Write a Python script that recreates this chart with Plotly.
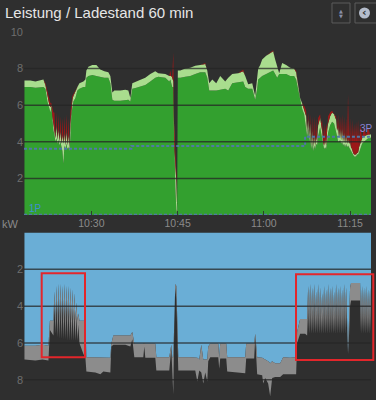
import pandas as pd
import plotly.graph_objects as go

# ---------------- data ----------------
BASE = pd.Timestamp("2024-05-01 10:00:00")

# top chart: minutes after 10:00
top_min = [18.36, 19.40, 20.27, 21.14, 21.66, 22.01, 22.35, 22.70, 22.88, 23.05,
           23.22, 23.40, 23.57, 23.75, 23.92, 24.10, 24.27, 24.44, 24.61, 24.79,
           24.96, 25.14, 25.31, 25.48, 25.66, 25.83, 26.00, 26.18, 26.35, 26.53,
           26.70, 26.87, 27.22, 27.57, 27.92, 28.61, 28.96, 29.13, 29.48, 30.17,
           30.87, 31.56, 32.26, 32.95, 33.30, 33.65, 34.00, 35.04, 35.91, 36.43,
           36.78, 37.12, 37.82, 38.51, 39.38, 40.25, 41.12, 41.64, 42.86, 43.55,
           43.73, 43.90, 44.07, 44.25, 44.39, 44.60, 44.78, 44.92, 45.04, 45.47,
           46.33, 47.20, 48.07, 48.94, 49.81, 50.16, 50.50, 51.03, 51.72, 52.41,
           53.28, 53.81, 54.50, 55.54, 56.41, 56.76, 57.28, 57.98, 58.50, 58.84,
           59.02, 59.37, 59.71, 60.41, 61.10, 61.62, 61.97, 62.32, 62.67, 63.19,
           63.88, 64.58, 65.27, 65.62, 65.97, 66.31, 66.66, 67.01, 67.36, 67.53,
           67.71, 67.88, 68.05, 68.23, 68.40, 68.57, 68.75, 68.92, 69.09, 69.27,
           69.44, 69.79, 69.96, 70.14, 70.31, 70.48, 70.66, 70.83, 71.01, 71.18,
           71.53, 71.87, 72.22, 72.57, 72.74, 72.92, 73.09, 73.26, 73.44, 73.61,
           73.78, 73.96, 74.13, 74.31, 74.48, 74.65, 74.83, 75.00, 75.17, 75.35,
           75.52, 75.70, 75.87, 76.04, 76.22, 76.39, 76.56, 76.74, 77.09, 77.43,
           77.78, 78.13, 78.48, 78.65]

charge_kw = [7.0, 7.0, 6.95, 7.0, 7.0, 6.9, 6.2, 5.8, 5.6, 5.9,
             5.2, 4.6, 4.4, 4.0, 4.2, 3.9, 4.1, 3.8, 4.0, 3.7,
             3.5, 2.8, 3.8, 3.6, 3.9, 3.6, 3.7, 3.5, 4.2, 5.5,
             6.0, 6.2, 6.4, 6.8, 6.9, 7.0, 7.0, 7.5, 7.6, 7.65,
             7.6, 7.55, 7.5, 7.5, 7.2, 6.3, 6.25, 6.25, 6.3, 6.3,
             6.2, 6.9, 6.95, 7.0, 7.1, 7.3, 7.5, 7.55, 7.5, 7.3,
             7.4, 7.2, 7.0, 7.0, 4.0, 1.5, 0.3, 0.1, 7.5, 7.5,
             7.55, 7.6, 7.7, 7.8, 7.8, 7.5, 6.8, 6.8, 6.8, 6.85,
             6.9, 6.8, 7.2, 7.25, 7.3, 7.0, 6.9, 6.9, 6.3, 6.9,
             7.4, 7.5, 7.6, 7.7, 7.8, 7.9, 7.7, 7.5, 7.7, 7.7,
             7.7, 7.6, 7.6, 7.4, 6.8, 6.2, 5.8, 5.5, 4.6, 4.3,
             4.7, 4.0, 4.4, 3.6, 4.0, 3.5, 3.8, 3.6, 3.9, 3.8,
             4.3, 4.8, 4.5, 4.2, 3.8, 3.6, 3.7, 3.6, 4.0, 4.5,
             4.9, 5.1, 5.0, 4.6, 4.3, 4.0, 4.0, 4.1, 3.9, 4.0,
             3.8, 3.9, 3.7, 3.9, 3.7, 3.8, 3.7, 3.6, 3.5, 3.4,
             3.3, 3.2, 3.2, 3.2, 3.3, 3.3, 3.4, 3.6, 3.9, 4.0,
             4.1, 4.2, 4.2, 4.25]

pv_kw = [7.35, 7.35, 7.3, 7.35, 7.4, 7.1, 6.5, 6.0, 5.9, 6.0,
         5.4, 5.0, 4.8, 4.2, 4.9, 4.1, 4.7, 4.0, 4.6, 3.9,
         4.4, 3.9, 4.5, 3.8, 4.6, 3.8, 4.4, 3.7, 5.0, 6.0,
         6.3, 6.5, 6.8, 7.0, 7.2, 7.3, 7.4, 7.9, 8.1, 8.2,
         8.2, 7.95, 7.85, 7.8, 7.6, 6.7, 6.8, 6.8, 6.85, 6.8,
         6.4, 7.2, 7.3, 7.4, 7.5, 7.7, 7.85, 7.75, 7.7, 7.6,
         7.6, 7.6, 7.5, 7.3, 4.0, 3.0, 1.8, 0.4, 7.9, 7.9,
         8.0, 8.05, 8.15, 8.2, 8.25, 7.9, 7.2, 7.4, 7.2, 7.6,
         7.3, 7.5, 7.7, 7.75, 7.85, 7.6, 7.15, 7.2, 6.5, 7.5,
         8.0, 8.2, 8.5, 8.7, 8.85, 8.95, 8.5, 8.1, 7.75, 8.3,
         8.2, 8.05, 8.0, 7.8, 7.0, 6.4, 6.1, 5.8, 5.4, 4.5,
         5.2, 4.2, 5.0, 3.8, 4.6, 3.7, 4.4, 3.8, 4.3, 4.0,
         4.9, 5.3, 5.0, 4.6, 4.0, 3.8, 4.2, 3.8, 4.6, 5.0,
         5.4, 5.6, 5.5, 5.2, 4.6, 4.8, 4.2, 4.7, 4.1, 4.7,
         4.0, 4.5, 3.9, 4.4, 3.9, 4.2, 3.9, 4.0, 3.7, 3.6,
         3.4, 3.3, 3.3, 3.3, 3.4, 3.4, 3.7, 3.9, 4.2, 4.3,
         4.35, 4.4, 4.4, 4.4]

peak_kw = [7.35, 7.35, 7.3, 7.35, 7.4, 7.2, 6.8, 6.4, 6.1, 6.1,
           5.8, 5.6, 5.6, 4.2, 5.6, 4.1, 5.5, 4.0, 5.4, 3.9,
           5.3, 3.9, 5.4, 3.8, 5.5, 3.8, 5.3, 3.7, 5.6, 6.2,
           6.5, 6.6, 6.8, 7.0, 7.2, 7.3, 7.4, 7.9, 8.1, 8.2,
           8.2, 7.95, 7.85, 7.8, 7.6, 6.7, 6.8, 6.8, 6.85, 6.8,
           6.4, 7.2, 7.3, 7.4, 7.5, 7.7, 7.85, 7.75, 7.7, 7.6,
           7.9, 7.6, 7.6, 8.9, 5.0, 3.5, 2.3, 0.4, 7.9, 7.9,
           8.0, 8.05, 8.15, 8.2, 8.3, 7.9, 7.2, 7.4, 7.2, 7.6,
           7.3, 7.5, 7.7, 7.75, 7.95, 7.6, 7.15, 7.2, 6.5, 7.5,
           8.0, 8.2, 8.5, 8.7, 8.85, 9.0, 8.5, 8.1, 7.75, 8.3,
           8.2, 8.05, 8.0, 7.9, 7.0, 6.4, 6.1, 6.0, 5.7, 4.5,
           5.6, 4.2, 5.5, 3.8, 5.4, 3.7, 5.4, 3.8, 5.3, 4.0,
           5.3, 5.5, 5.0, 5.2, 4.0, 5.0, 4.2, 5.0, 4.6, 5.4,
           5.6, 5.7, 5.5, 5.4, 4.6, 5.5, 4.2, 5.4, 4.1, 5.5,
           4.0, 5.4, 3.9, 5.3, 3.9, 6.6, 3.9, 5.3, 3.7, 5.2,
           4.0, 5.0, 4.0, 5.1, 4.0, 5.2, 3.7, 5.0, 4.2, 4.8,
           4.35, 4.8, 4.4, 4.4]

threshold_min = [18.28, 36.95, 67.18, 78.64]
threshold_kw = [3.62, 3.77, 4.28, 4.28]
zero_min = [18.28, 78.64]
zero_kw = [0, 0]

# bottom chart (reversed axis)
bot_min = [18.36, 20.27, 21.49, 22.53, 22.79, 23.05, 23.40, 23.57, 23.75, 23.92,
           24.10, 24.27, 24.44, 24.61, 24.79, 24.96, 25.14, 25.31, 25.48, 25.66,
           25.83, 26.00, 26.18, 26.35, 26.53, 26.70, 26.87, 27.05, 27.22, 27.40,
           27.57, 27.74, 27.92, 28.61, 28.96, 29.13, 30.69, 31.56, 32.08, 33.30,
           33.47, 33.82, 35.91, 36.78, 37.12, 37.47, 39.03, 39.21, 39.38, 41.12,
           41.30, 42.86, 43.55, 43.90, 44.07, 44.25, 44.42, 44.60, 44.78, 44.94,
           45.12, 47.20, 48.07, 48.42, 48.77, 49.12, 49.46, 49.81, 50.16, 50.33,
           50.68, 52.07, 52.24, 52.41, 53.46, 53.63, 55.02, 56.76, 56.93, 58.32,
           58.50, 58.67, 58.84, 59.71, 59.89, 60.23, 60.75, 61.10, 61.45, 61.97,
           62.84, 63.36, 64.58, 65.62, 65.79, 66.31, 67.18, 67.53, 67.71, 67.88,
           68.05, 68.23, 68.40, 68.57, 68.75, 68.92, 69.09, 69.27, 69.44, 69.62,
           69.79, 69.96, 70.14, 70.31, 70.48, 70.66, 70.83, 71.01, 71.18, 71.35,
           71.53, 71.70, 71.87, 72.05, 72.22, 72.39, 72.57, 72.74, 72.92, 73.09,
           73.26, 73.44, 73.61, 73.78, 73.96, 74.13, 74.31, 74.48, 74.65, 74.83,
           75.00, 75.17, 76.74, 76.91, 77.09, 77.26, 77.43, 77.61, 77.78, 77.96,
           78.13, 78.30, 78.48, 78.65]

house_kw = [6.15, 6.15, 6.1, 6.15, 4.8, 4.8, 4.8, 3.2, 4.8, 2.9,
            4.8, 2.8, 4.8, 2.8, 4.8, 2.9, 4.8, 2.8, 4.8, 2.9,
            4.8, 2.9, 4.8, 3.0, 4.8, 3.1, 4.8, 3.3, 4.8, 3.8,
            4.8, 4.4, 4.8, 4.8, 4.8, 6.78, 6.8, 6.78, 6.8, 6.8,
            6.05, 5.6, 5.6, 5.6, 5.4, 6.05, 6.05, 6.0, 6.05, 6.05,
            6.78, 6.78, 6.78, 6.1, 6.78, 6.78, 4.5, 2.8, 2.9, 5.0,
            6.78, 6.78, 6.8, 6.8, 6.9, 6.1, 6.9, 6.9, 6.9, 6.2,
            6.05, 6.05, 6.8, 6.05, 6.05, 6.78, 6.78, 6.78, 6.05, 6.05,
            5.5, 6.1, 6.78, 6.8, 6.85, 6.9, 7.0, 7.1, 7.0, 7.1,
            7.1, 6.78, 6.8, 6.78, 5.4, 4.7, 4.7, 4.7, 2.9, 4.6,
            2.8, 4.6, 3.0, 4.6, 2.8, 4.6, 3.2, 4.6, 2.8, 4.6,
            3.0, 4.6, 3.3, 4.6, 2.9, 4.6, 3.1, 4.6, 2.8, 4.6,
            3.0, 4.6, 2.9, 4.6, 3.2, 4.6, 2.8, 4.6, 3.0, 4.6,
            2.9, 4.6, 3.1, 4.6, 2.8, 4.6, 3.0, 4.6, 6.5, 4.6,
            3.0, 2.75, 2.75, 4.6, 2.9, 4.6, 3.0, 4.6, 2.9, 4.6,
            3.1, 4.6, 3.0, 4.6]

total_kw = [6.9, 6.95, 6.9, 6.96, 5.3, 5.4, 5.6, 3.8, 5.5, 3.6,
            5.7, 3.5, 5.8, 3.6, 5.8, 3.5, 5.8, 3.7, 5.8, 3.6,
            5.9, 3.8, 5.9, 3.9, 5.9, 4.0, 5.9, 4.2, 5.9, 4.5,
            5.9, 5.0, 6.0, 6.6, 6.8, 7.55, 7.6, 7.7, 7.55, 7.6,
            6.2, 6.1, 6.1, 6.2, 5.8, 6.78, 6.78, 6.2, 6.8, 6.8,
            7.5, 7.5, 7.5, 6.3, 7.5, 8.8, 5.0, 3.0, 3.6, 6.0,
            7.5, 7.5, 7.5, 8.1, 7.5, 7.6, 8.2, 7.6, 8.1, 7.0,
            6.78, 6.78, 7.4, 6.85, 6.85, 7.55, 7.6, 7.65, 6.85, 6.85,
            5.7, 6.9, 7.7, 7.75, 8.2, 7.9, 8.2, 8.9, 7.9, 7.85,
            7.85, 7.7, 7.7, 7.7, 6.0, 5.5, 5.5, 5.6, 4.0, 5.5,
            3.9, 5.5, 4.1, 5.5, 3.8, 5.5, 4.2, 5.5, 3.9, 5.5,
            4.0, 5.5, 4.3, 5.5, 3.9, 5.5, 4.1, 5.5, 3.8, 5.5,
            4.0, 5.5, 3.9, 5.5, 4.2, 5.5, 3.8, 5.5, 4.0, 5.5,
            3.9, 5.5, 4.1, 5.5, 3.9, 5.5, 4.0, 5.5, 6.6, 5.5,
            4.0, 3.7, 3.7, 5.5, 3.9, 5.5, 4.0, 5.5, 3.9, 5.5,
            4.1, 5.5, 4.0, 5.5]

axis_min = [18.28, 78.64]
top_yticks = [2, 4, 6, 8, 10]
bot_yticks = [2, 4, 6, 8]
grid_kw = [2, 4, 6, 8]


def to_time(mins):
    return [BASE + pd.Timedelta(minutes=m) for m in mins]


# ---------------- style ----------------
BG = "#2f2f2f"
GREEN = "#33a02f"
LIGHT = "#a9dd8e"
RED = "#9c1919"
BLUE = "#6aaed6"
GRAY = "#8c8c8c"
DASH = "#4f78a6"

fig = go.Figure()

t_top = to_time(top_min)
fig.add_trace(go.Scatter(x=t_top, y=charge_kw, mode="lines", fill="tozeroy",
                         fillcolor=GREEN, line=dict(width=0, color=GREEN),
                         xaxis="x", yaxis="y"))
fig.add_trace(go.Scatter(x=t_top, y=pv_kw, mode="lines", fill="tonexty",
                         fillcolor=LIGHT, line=dict(width=0, color=LIGHT),
                         xaxis="x", yaxis="y"))
fig.add_trace(go.Scatter(x=t_top, y=peak_kw, mode="lines", fill="tonexty",
                         fillcolor=RED, line=dict(width=0, color=RED),
                         xaxis="x", yaxis="y"))
fig.add_trace(go.Scatter(x=to_time(threshold_min), y=threshold_kw, mode="lines",
                         line=dict(width=2, color=DASH, dash="3px,2px", shape="hv"),
                         xaxis="x", yaxis="y"))
fig.add_trace(go.Scatter(x=to_time(zero_min), y=zero_kw, mode="lines",
                         line=dict(width=2.5, color=DASH, dash="3px,2px"),
                         xaxis="x", yaxis="y"))

t_bot = to_time(bot_min)
fig.add_trace(go.Scatter(x=t_bot, y=house_kw, mode="lines", fill="tozeroy",
                         fillcolor=BLUE, line=dict(width=0, color=BLUE),
                         xaxis="x2", yaxis="y2"))
fig.add_trace(go.Scatter(x=t_bot, y=total_kw, mode="lines", fill="tonexty",
                         fillcolor=GRAY, line=dict(width=0, color=GRAY),
                         xaxis="x2", yaxis="y2"))

xr = to_time(axis_min)
tickfont_x = dict(family="Liberation Sans", size=10.5, color="#8a8a8a")
tickfont_y = dict(family="Liberation Sans", size=11, color="#6e6e6e")

fig.update_layout(
    width=376, height=400, autosize=False,
    paper_bgcolor=BG, plot_bgcolor=BG,
    margin=dict(l=24, r=5, t=32, b=0, autoexpand=False),
    showlegend=False,
    font=dict(family="Liberation Sans"),
    xaxis=dict(domain=[0, 1], anchor="y", type="date", range=xr,
               tick0=BASE, dtick=15 * 60 * 1000, tickformat="%H:%M",
               ticks="inside", ticklen=4, tickwidth=1, automargin=False,
               tickcolor="rgba(40,40,40,0.8)", showgrid=False,
               zeroline=False, showline=False, tickfont=tickfont_x),
    yaxis=dict(domain=[(400 - 215) / 368, 1], anchor="x", range=[0, 10],
               tickvals=top_yticks, showgrid=False, zeroline=False,
               automargin=False,
               showline=False, ticks="", tickfont=tickfont_y),
    xaxis2=dict(domain=[0, 1], anchor="y2", type="date", range=xr,
                showticklabels=False, showgrid=False, zeroline=False,
                automargin=False,
                showline=False, ticks=""),
    yaxis2=dict(domain=[0, (400 - 232.5) / 368], anchor="x2",
                range=[9.1, 0], tickvals=bot_yticks, showgrid=False,
                automargin=False,
                zeroline=False, showline=False, ticks="", tickfont=tickfont_y),
)

shapes = []
for v in grid_kw:
    shapes.append(dict(type="line", xref="x domain", yref="y", x0=0, x1=1,
                       y0=v, y1=v, layer="above",
                       line=dict(color="rgba(38,38,38,0.75)", width=1.5)))
    shapes.append(dict(type="line", xref="x2 domain", yref="y2", x0=0, x1=1,
                       y0=v, y1=v, layer="above",
                       line=dict(color="rgba(38,38,38,0.75)", width=1.5)))

# highlight boxes (paper coordinates)
shapes.append(dict(type="rect", xref="paper", yref="paper",
                   x0=0.051, x1=0.1758, y0=0.116, y1=0.3443, layer="above",
                   line=dict(color="#e3262b", width=2)))
shapes.append(dict(type="rect", xref="paper", yref="paper",
                   x0=0.7839, x1=1.0066, y0=0.1087, y1=0.3416, layer="above",
                   line=dict(color="#e3262b", width=2)))
# header buttons
shapes.append(dict(type="rect", xref="paper", yref="paper",
                   x0=0.8876, x1=0.9395, y0=1.0245, y1=1.0788,
                   line=dict(color="#5c5c5c", width=1)))
shapes.append(dict(type="rect", xref="paper", yref="paper",
                   x0=0.9539, x1=1.0202, y0=1.0245, y1=1.0788,
                   line=dict(color="#5c5c5c", width=1)))
shapes.append(dict(type="circle", xref="paper", yref="paper",
                   x0=0.9654, x1=0.9971, y0=1.0367, y1=1.0666,
                   fillcolor="#b4bccb", line=dict(width=0)))
fig.update_layout(shapes=shapes)

ann = [
    dict(text="Leistung / Ladestand 60 min", xref="paper", yref="paper",
         x=-0.0605, y=1.054, xanchor="left", yanchor="middle", showarrow=False,
         font=dict(family="Liberation Sans", size=15, color="#e6e6e6")),
    dict(text="kW", xref="paper", yref="paper", x=-0.039, y=0.478,
         xanchor="center", yanchor="middle", showarrow=False,
         font=dict(family="Liberation Sans", size=11, color="#8a8a8a")),
    dict(text="1P", xref="paper", yref="y", x=0.009, y=0.35, xanchor="left",
         yanchor="middle", showarrow=False,
         font=dict(family="Liberation Sans", size=10, color="#3f8fd0")),
    dict(text="3P", xref="paper", yref="y", x=0.962, y=4.75, xanchor="left",
         yanchor="middle", showarrow=False,
         font=dict(family="Liberation Sans", size=10, color="#8884d6")),
    dict(text="▲", xref="paper", yref="paper", x=0.9135, y=1.0584,
         xanchor="center", yanchor="middle", showarrow=False,
         font=dict(family="DejaVu Sans", size=5, color="#8a90a8")),
    dict(text="▼", xref="paper", yref="paper", x=0.9135, y=1.0448,
         xanchor="center", yanchor="middle", showarrow=False,
         font=dict(family="DejaVu Sans", size=5, color="#8a90a8")),
    dict(text="<b>‹</b>", xref="paper", yref="paper", x=0.9805, y=1.053,
         xanchor="center", yanchor="middle", showarrow=False,
         font=dict(family="DejaVu Sans", size=11, color="#2f2f2f")),
]
fig.update_layout(annotations=ann)

fig.write_html(
    "out.html",
    config={"displayModeBar": False},
    post_script="document.body.style.margin='0';document.body.style.padding='0';"
                "document.body.style.background='#2f2f2f';",
)
